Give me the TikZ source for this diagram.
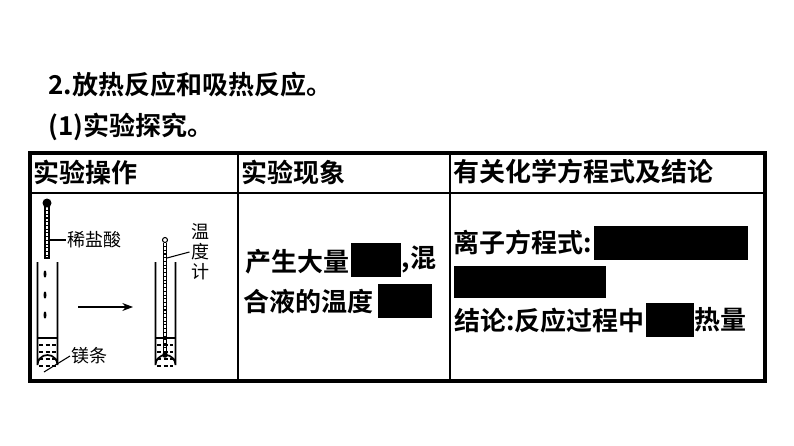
\documentclass[tikz,border=0pt]{standalone}
\usepackage{fontspec}
\newfontfamily\cjk{Noto Sans CJK SC}[BoldFont={Noto Sans CJK SC Bold}]
\usetikzlibrary{arrows.meta}
\tikzset{
  cell/.style={anchor=west,inner sep=0pt,font=\cjk\bfseries\fontsize{19.5}{23}\selectfont},
  tag/.style={anchor=west,inner sep=0.75pt,font=\cjk\fontsize{13.5}{16}\selectfont},
  hide/.style={fill=black,draw=none},
  tube/.style={solid,line width=1.3pt}
}
\begin{document}
\begin{tikzpicture}[x=0.75pt,y=0.75pt,yscale=-1,xscale=1,line width=0.8pt]
\useasboundingbox (0,0) rectangle (794,446);

% Title lines
\node[cell] (title) at (48,85) {2.放热反应和吸热反应。};
\node[cell] (sub) at (48,127) {(1)实验探究。};

% Table frame
\draw[line width=3pt] (30,153) rectangle (765,381);
\draw[line width=2pt] (30,193) -- (765,193);
\draw[line width=2pt] (238,153) -- (238,381);
\draw[line width=2pt] (450,153) -- (450,381);

% Header texts
\node[cell] (h1) at (33,172) {实验操作};
\node[cell] (h2) at (241,172) {实验现象};
\node[cell] (h3) at (453,172) {有关化学方程式及结论};

% Left tube with dropper
\fill (47,203) circle (4.5);
\draw (45,206) rectangle (49,258);
\draw[dotted] (47,210) -- (47,256);
\draw[tube] (37.5,262) -- (37.5,365) arc (180:360:10) -- (57.5,262);
\draw[tube] (37.5,338) -- (57.5,338);
\begin{scope}[dash pattern=on 3pt off 2pt]
\foreach \yy in {345,352,359,366} \draw (39,\yy) -- (56,\yy);
\end{scope}
\foreach \yy in {274,295,315} \fill (45,\yy) ellipse (1.5 and 3.5);
\coordinate (drop) at (49,240);
\node[tag] (acid) at (66,240) {稀盐酸};
\draw (drop) -- (acid.west);
\coordinate (mg) at (44,372);
\node[tag] (mgl) at (70,356) {镁条};
\draw (mg) -- (mgl.west);

% Arrow
\coordinate (ar1) at (78,307);
\coordinate (ar2) at (133,307);
\draw[-{Stealth[length=8pt]}] (ar1) -- (ar2);

% Right tube with thermometer
\draw[tube] (155.5,262) -- (155.5,365) arc (180:360:10) -- (175.5,262);
\draw[tube] (155.5,338) -- (175.5,338);
\begin{scope}[dash pattern=on 3pt off 2pt]
\foreach \yy in {345,352,359,366} \draw (157,\yy) -- (173,\yy);
\end{scope}
\draw (165,240) circle (2.5);
\draw (163.5,242.5) -- (163.5,354);
\draw (166.5,242.5) -- (166.5,354);
\draw[dotted] (165,246) -- (165,352);
\fill (165,355) circle (2.8);
\coordinate (therm) at (167,258);
\node[font=\cjk\fontsize{13.5}{16}\selectfont,align=center,inner sep=0.75pt] (tl) at (200,252) {温\\[-1pt]度\\[-1pt]计};
\draw (therm) -- (tl.west);

% Middle column
\node[cell,anchor=east] (p1) at (350,262) {产生大量};
\node[hide,anchor=north west,minimum width=37.5pt,minimum height=25.5pt,inner sep=0pt] (b1) at (350,242) {};
\node[cell] (p1b) at (b1.east) {,混};
\node[cell] (p2) at (243,302) {合液的温度};
\node[hide,anchor=north west,minimum width=41pt,minimum height=26pt,inner sep=0pt] (b2) at (377,283) {};

% Right column
\node[cell] (r1) at (453,243) {离子方程式:};
\node[hide,anchor=north west,minimum width=115.5pt,minimum height=26pt,inner sep=0pt] (b3) at (593,225) {};
\node[hide,anchor=north west,minimum width=114pt,minimum height=24pt,inner sep=0pt] (b4) at (453,265) {};
\node[cell,anchor=east] (r2) at (645,321) {结论:反应过程中};
\node[hide,anchor=north west,minimum width=36pt,minimum height=25.5pt,inner sep=0pt] (b5) at (645,302) {};
\node[cell] (r2b) at (b5.east) {热量};
\end{tikzpicture}
\end{document}
